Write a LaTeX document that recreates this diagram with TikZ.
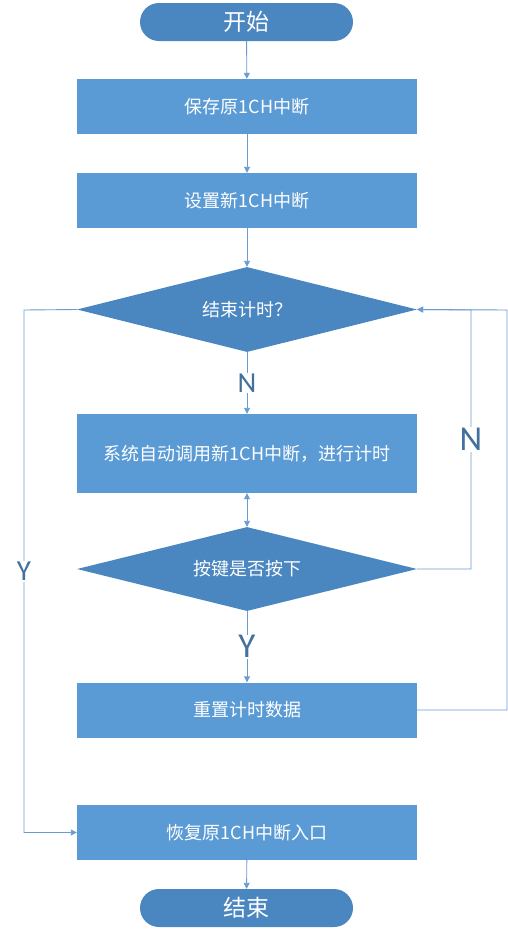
\documentclass[tikz,border=0pt]{standalone}
\usepackage{fontspec}
\setmainfont{Noto Sans CJK SC}
\newfontfamily\labelfont{Carlito}
\usetikzlibrary{shapes,arrows.meta,positioning,calc}

\definecolor{boxblue}{HTML}{5B9BD5}
\definecolor{darkblue}{HTML}{4A86C0}
\definecolor{lineblue}{HTML}{6C9BD2}
\definecolor{labelblue}{HTML}{41719C}

\begin{document}
\begin{tikzpicture}[x=1pt,y=-1pt,
  proc/.style={rectangle,fill=boxblue,minimum width=340pt,minimum height=55pt,
    inner sep=0pt,text=white,font=\fontsize{18}{21}\selectfont},
  term/.style={rectangle,rounded corners=19pt,fill=darkblue,minimum width=213pt,
    minimum height=38pt,inner sep=0pt,text=white,font=\fontsize{23}{26}\selectfont},
  decide/.style={diamond,aspect=4,fill=darkblue,minimum width=340pt,minimum height=85pt,
    inner sep=0pt,text=white,font=\fontsize{18}{21}\selectfont},
  flow/.style={draw=lineblue,line width=0.9pt,-{Triangle[length=6pt,width=6pt]}},
  yn/.style={fill=white,text=labelblue,inner sep=1pt,font=\labelfont\fontsize{29}{30}\selectfont},
  bigyn/.style={yn,font=\labelfont\fontsize{35}{36}\selectfont}]

       \useasboundingbox (0,0) rectangle (508,935);

       % flow steps
       \node[term] (start) at (246.5,22) {开始};
       \node[proc] (save) at (247,106.5) {保存原1CH中断};
       \node[proc] (setnew) at (247,200.5) {设置新1CH中断};
       \node[decide] (endq) at (247,309.5) {结束计时？};
       \node[proc,minimum height=79pt] (timing) at (247,453.5) {系统自动调用新1CH中断，进行计时};
       \node[decide,minimum height=84pt] (keyq) at (247,569) {按键是否按下};
       \node[proc] (reset) at (247,710) {重置计时数据};
       \node[proc] (restore) at (247,832.5) {恢复原1CH中断入口};
       \node[term] (stop) at (246.5,908) {结束};

       % turning points of the loops
       \coordinate (yleft) at (24,310);
       \coordinate (nright) at (471,310);
       \coordinate (rright) at (507,310);

       % straight connectors
       \draw[flow] (start) -- (save);
       \draw[flow] (save) -- (setnew);
       \draw[flow] (setnew) -- (endq);
       \draw[flow] (endq) -- node[yn]{N} (timing);
       \draw[flow,{Triangle[length=6pt,width=6pt]}-{Triangle[length=6pt,width=6pt]}] (timing) -- (keyq);
       \draw[flow] (keyq) -- node[bigyn]{Y} (reset);
       \draw[flow] (restore) -- (stop);

       % loops
       \draw[flow] (endq.west) -- (yleft) |- node[yn,pos=0.25]{Y} (restore.west);
       \draw[flow] (keyq.east) -| node[bigyn,pos=0.75]{N} (nright) -- (endq.east);
       \draw[flow] (reset.east) -| (rright) -- (endq.east);
\end{tikzpicture}
\end{document}
